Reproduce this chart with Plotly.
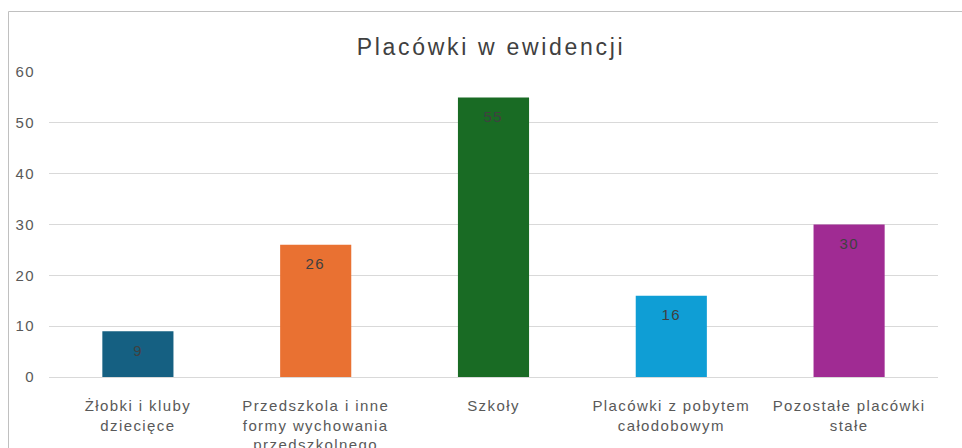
import plotly.graph_objects as go

categories = ["Żłobki i kluby<br>dziecięce",
              "Przedszkola i inne<br>formy wychowania<br>przedszkolnego",
              "Szkoły",
              "Placówki z pobytem<br>całodobowym",
              "Pozostałe placówki<br>stałe"]
values = [9, 26, 55, 16, 30]
colors = ["#156082", "#E97132", "#196B24", "#0F9ED5", "#A02B93"]
y_ticks = [0, 10, 20, 30, 40, 50, 60]

W, H = 962, 448
L, R, T, B = 49, 24, 72, 71
pw, ph = W - L - R, H - T - B
FONT = "Liberation Sans"

fig = go.Figure(go.Bar(
    x=categories, y=values, marker=dict(color=colors, line=dict(width=0)),
    width=0.4, hoverinfo="x+y",
))

for c, v in zip(categories, values):
    fig.add_annotation(x=c, y=v, text=str(v), showarrow=False, yshift=-19,
                       yanchor="middle", xanchor="center",
                       font=dict(family=FONT, size=15, color="#404040"))

fig.update_layout(
    width=W, height=H, margin=dict(l=L, r=R, t=T, b=B, autoexpand=False),
    paper_bgcolor="white", plot_bgcolor="white",
    title=dict(text="Placówki w ewidencji", x=(491 - L) / pw, xref="paper", xanchor="center",
               y=1 - 47 / H, yanchor="middle",
               font=dict(family=FONT, size=23, color="#404040")),
    showlegend=False,
    font=dict(family=FONT, size=15, color="#595959"),
)
fig.update_yaxes(range=[0, 60], tickvals=y_ticks, showgrid=True, gridcolor="#d9d9d9",
                 gridwidth=1, zeroline=False, showline=False, ticks="", automargin=False,
                 ticklabelstandoff=13, tickfont=dict(family=FONT, size=15, color="#595959"))
fig.update_xaxes(showline=True, linecolor="#d9d9d9", linewidth=1, ticks="", automargin=False,
                 ticklabelstandoff=15, tickfont=dict(family=FONT, size=15, color="#595959"))

fig.add_shape(type="rect", xref="paper", yref="paper",
              x0=(8.5 - L) / pw, x1=(975 - L) / pw,
              y0=(H - B - 460) / ph, y1=(H - B - 11.5) / ph,
              line=dict(color="#c0c0c0", width=1), fillcolor="rgba(0,0,0,0)", layer="below")

post = """
document.body.style.margin = '0';
var st = document.createElement('style');
st.textContent = '.xtick text, .ytick text, .annotation-text {letter-spacing: 1.4px;} .gtitle {letter-spacing: 2.7px;}';
document.head.appendChild(st);
"""
fig.write_html("out.html", post_script=post, config={"displayModeBar": False})
